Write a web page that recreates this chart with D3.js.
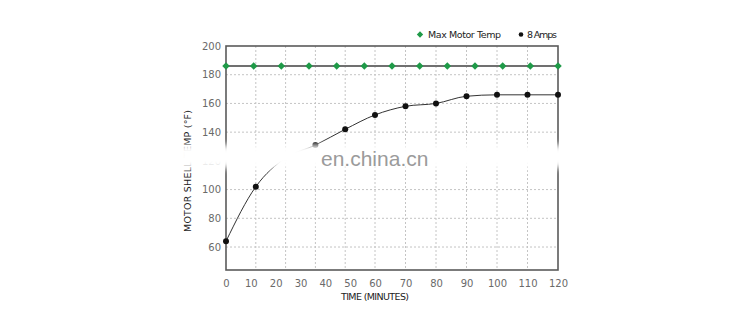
<!DOCTYPE html>
<html>
<head>
<meta charset="utf-8">
<script src="https://cdn.jsdelivr.net/npm/d3@7"></script>
<style>
    body { margin: 0; background: #fff; }
    text { font-family: "DejaVu Sans", sans-serif; }
    .tick text { fill: #6a6a6a; font-size: 10px; }
    .grid { stroke: #c4c4c4; stroke-width: 1; stroke-dasharray: 2,2; }
</style>
</head>
<body>
<div id="chart"></div>
<script>
// data
const times = [0, 12, 24, 36, 48, 60, 70, 80, 90, 100, 110, 120];
const ampsTemp = [64, 102, 122, 131, 142, 152, 158, 160, 165, 166, 166, 166];
const maxTemp = [186, 186, 186, 186, 186, 186, 186, 186, 186, 186, 186, 186, 186];
const xTicks = [0, 10, 20, 30, 40, 50, 60, 70, 80, 90, 100, 110, 120];
const yTicks = [60, 80, 100, 120, 140, 160, 180, 200];
const seriesNames = ["Max Motor Temp", "8 Amps"];

function drawChart() {
    const width = 750, height = 332;
    const left = 226, right = 558, top = 46, bottom = 270;

    const svg = d3.select("#chart").append("svg")
        .attr("width", width)
        .attr("height", height);

    // the time axis is not evenly spaced in the original, so piecewise
    const x = d3.scaleLinear().domain([0, 60, 120]).range([left, 375, right]);
    const y = d3.scaleLinear().domain([44, 200]).range([bottom, top]);
    // the max temp markers sit on their own even spacing
    const xMax = d3.scalePoint().domain(d3.range(maxTemp.length)).range([left, right]);

    // diamond = square turned 45deg
    const diamond = d3.symbol().type(d3.symbolSquare).size(28);

    // soft white band used to wipe out part of the picture
    const defs = svg.append("defs");
    defs.append("filter").attr("id", "soft")
        .attr("x", "-10%").attr("y", "-60%").attr("width", "120%").attr("height", "220%")
        .append("feGaussianBlur").attr("stdDeviation", 3);

    // gridlines
    svg.append("g").selectAll("line")
        .data(yTicks.filter(v => v < 200))
        .enter().append("line")
        .attr("class", "grid")
        .attr("x1", left).attr("x2", right)
        .attr("y1", d => y(d)).attr("y2", d => y(d));

    svg.append("g").selectAll("line")
        .data(times.slice(1, -1))
        .enter().append("line")
        .attr("class", "grid")
        .attr("x1", d => x(d)).attr("x2", d => x(d))
        .attr("y1", top).attr("y2", bottom);

    // frame
    svg.append("rect")
        .attr("x", left).attr("y", top)
        .attr("width", right - left).attr("height", bottom - top)
        .attr("fill", "none")
        .attr("stroke", "#5a5a5a")
        .attr("stroke-width", 1.6);

    // axes
    const yAxis = svg.append("g")
        .attr("transform", "translate(" + left + ",0)")
        .call(d3.axisLeft(y).tickValues(yTicks).tickSize(0).tickPadding(5));
    yAxis.select(".domain").remove();

    const xAxis = svg.append("g")
        .attr("transform", "translate(0," + bottom + ")")
        .call(d3.axisBottom(x).tickValues(xTicks).tickSize(0).tickPadding(10));
    xAxis.select(".domain").remove();

    svg.append("text")
        .attr("x", 375).attr("y", 300)
        .attr("text-anchor", "middle")
        .style("font-size", "9.5px")
        .style("fill", "#222")
        .attr("textLength", 68)
        .text("TIME (MINUTES)");

    svg.append("text")
        .attr("transform", "translate(191,171) rotate(-90)")
        .attr("text-anchor", "middle")
        .style("font-size", "9.5px")
        .style("fill", "#222")
        .attr("textLength", 122)
        .text("MOTOR SHELL TEMP (°F)");

    // max motor temp line
    svg.append("path")
        .datum(maxTemp)
        .attr("fill", "none")
        .attr("stroke", "#707070")
        .attr("stroke-width", 2)
        .attr("d", d3.line().x((d, i) => xMax(i)).y(d => y(d)));

    svg.append("g").selectAll("path")
        .data(maxTemp)
        .enter().append("path")
        .attr("transform", (d, i) => "translate(" + xMax(i) + "," + y(d) + ") rotate(45)")
        .attr("d", diamond)
        .attr("fill", "#1f9a48");

    // 8 amps line
    svg.append("path")
        .datum(ampsTemp)
        .attr("fill", "none")
        .attr("stroke", "#333")
        .attr("stroke-width", 1)
        .attr("d", d3.line()
            .curve(d3.curveMonotoneX)
            .x((d, i) => x(times[i]))
            .y(d => y(d)));

    svg.append("g").selectAll("circle")
        .data(ampsTemp)
        .enter().append("circle")
        .attr("cx", (d, i) => x(times[i]))
        .attr("cy", d => y(d))
        .attr("r", 3)
        .attr("fill", "#111");

    // legend
    const legend = svg.append("g").style("font-size", "9.5px");
    legend.append("path")
        .attr("transform", "translate(420,34.5) rotate(45)")
        .attr("d", diamond.size(20))
        .attr("fill", "#1f9a48");
    legend.append("text")
        .attr("x", 428).attr("y", 38)
        .attr("textLength", 73)
        .style("fill", "#222")
        .text(seriesNames[0]);
    legend.append("circle")
        .attr("cx", 521).attr("cy", 34.5).attr("r", 2.3)
        .attr("fill", "#111");
    legend.append("text")
        .attr("x", 527).attr("y", 38)
        .attr("textLength", 30)
        .style("fill", "#222")
        .text(seriesNames[1]);

    // the washed out band and watermark across the middle
    svg.append("rect")
        .attr("x", 178).attr("y", 145)
        .attr("width", 392).attr("height", 23)
        .attr("fill", "#fff")
        .attr("filter", "url(#soft)");

    svg.append("text")
        .attr("x", 321).attr("y", 166)
        .style("font-family", "'Liberation Sans', Arial, sans-serif")
        .style("font-size", "21px")
        .style("fill", "#9b9b9b")
        .text("en.china.cn");
}

drawChart();
</script>
</body>
</html>
